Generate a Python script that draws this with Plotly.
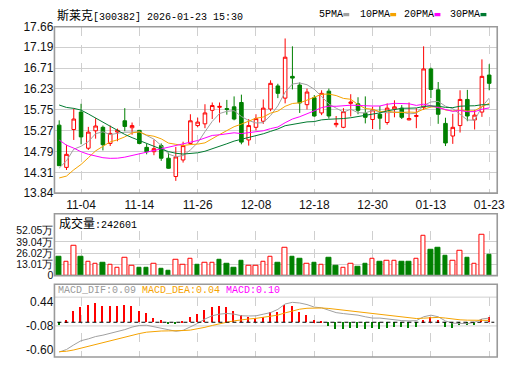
import plotly.graph_objects as go
import pandas as pd

# ---------------- data ----------------
stock_name = "斯莱克"
stock_code = "300382"
timestamp = "2026-01-23 15:30"

dates = ["10-30", "10-31", "11-03", "11-04", "11-05", "11-06", "11-07", "11-10", "11-11", "11-12",
         "11-13", "11-14", "11-17", "11-18", "11-19", "11-20", "11-21", "11-24", "11-25", "11-26",
         "11-27", "11-28", "12-01", "12-02", "12-03", "12-04", "12-05", "12-08", "12-09", "12-10",
         "12-11", "12-12", "12-15", "12-16", "12-17", "12-18", "12-19", "12-22", "12-23", "12-24",
         "12-25", "12-26", "12-29", "12-30", "12-31", "01-05", "01-06", "01-07", "01-08", "01-09",
         "01-12", "01-13", "01-14", "01-15", "01-16", "01-19", "01-20", "01-21", "01-22", "01-23"]

opens = [15.40, 14.43, 15.30, 15.70, 14.87, 15.27, 15.35, 14.98, 15.24, 15.50,
         15.34, 15.28, 14.89, 14.79, 14.93, 14.64, 14.22, 14.60, 14.98, 15.39,
         15.43, 15.74, 15.81, 15.78, 15.82, 15.92, 15.06, 15.35, 15.49, 15.77,
         16.30, 16.02, 16.52, 16.32, 15.87, 16.03, 15.68, 16.18, 15.41, 15.35,
         15.90, 15.89, 15.67, 15.53, 15.65, 15.46, 15.77, 15.79, 15.52, 15.60,
         15.81, 16.69, 16.21, 15.44, 15.15, 15.39, 15.99, 15.52, 15.70, 16.55]
highs = [15.51, 14.95, 15.78, 15.89, 15.36, 15.56, 15.39, 15.39, 15.32, 15.79,
         15.46, 15.29, 14.97, 15.07, 14.98, 14.77, 14.90, 15.02, 15.65, 15.57,
         15.88, 15.92, 15.92, 15.98, 16.06, 16.10, 15.54, 15.65, 15.99, 16.43,
         16.35, 17.39, 17.21, 16.38, 16.24, 16.09, 16.20, 16.24, 15.61, 15.79,
         16.11, 16.04, 16.06, 15.82, 15.84, 15.90, 15.97, 15.86, 15.92, 15.79,
         17.21, 16.72, 16.39, 15.57, 15.66, 16.20, 16.21, 15.75, 16.91, 16.80]
lows = [14.46, 14.37, 15.06, 14.96, 14.83, 15.09, 14.82, 14.92, 15.03, 15.26,
        15.18, 14.96, 14.73, 14.71, 14.58, 14.40, 14.12, 14.54, 14.95, 15.35,
        15.33, 15.54, 15.46, 15.64, 15.51, 14.96, 14.93, 15.28, 15.43, 15.72,
        16.02, 15.90, 16.22, 15.68, 15.76, 15.59, 15.63, 15.55, 15.35, 15.33,
        15.60, 15.65, 15.44, 15.31, 15.30, 15.41, 15.58, 15.54, 15.51, 15.33,
        15.75, 16.02, 15.43, 14.92, 14.97, 15.23, 15.49, 15.30, 15.59, 16.20]
closes = [14.47, 14.73, 15.54, 15.13, 15.24, 15.38, 14.95, 15.21, 15.28, 15.37,
          15.39, 14.98, 14.79, 14.86, 14.64, 14.41, 14.67, 14.93, 15.50, 15.47,
          15.68, 15.85, 15.83, 15.76, 15.54, 15.01, 15.39, 15.55, 15.79, 16.36,
          16.13, 16.96, 16.48, 15.91, 16.16, 15.61, 16.13, 15.61, 15.44, 15.71,
          15.93, 15.74, 15.58, 15.75, 15.56, 15.79, 15.82, 15.58, 15.55, 15.62,
          16.69, 16.22, 15.65, 14.99, 15.35, 15.99, 15.61, 15.63, 16.52, 16.36]

# closes before the visible window (estimated from where the MA lines start)
prior_closes = [16.4, 16.2, 16.3, 17.9, 18.2, 18.3, 18.1, 17.9, 17.8, 17.6,
                17.1, 16.9, 16.8, 16.4, 16.1, 15.8, 15.5, 15.2, 14.9, 14.6,
                14.3, 14.1, 13.9, 13.7, 13.8, 13.9, 14.2, 14.8, 14.7]

volumes = [216000, 160000, 346000, 216000, 160000, 134000, 149000, 123000, 85000, 204000,
           112000, 93000, 93000, 134000, 82000, 59000, 179000, 123000, 190000, 123000,
           149000, 149000, 185000, 134000, 93000, 171000, 112000, 112000, 160000, 223000,
           149000, 327000, 223000, 190000, 134000, 149000, 123000, 204000, 112000, 96000,
           141000, 104000, 134000, 190000, 160000, 167000, 167000, 160000, 160000, 197000,
           458000, 297000, 327000, 235000, 167000, 290000, 204000, 134000, 469000, 242601]

macd_dif = [-0.645, -0.59, -0.49, -0.40, -0.36, -0.31, -0.28, -0.245, -0.21, -0.16,
            -0.105, -0.07, -0.065, -0.10, -0.125, -0.17, -0.195, -0.175, -0.105, -0.025,
            0.07, 0.14, 0.175, 0.19, 0.175, 0.14, 0.135, 0.139, 0.174, 0.208,
            0.278, 0.395, 0.43, 0.416, 0.382, 0.327, 0.312, 0.258, 0.208, 0.187,
            0.174, 0.153, 0.118, 0.09, 0.09, 0.07, 0.05, 0.035, 0.028, 0.035,
            0.118, 0.153, 0.118, 0.028, -0.02, -0.03, -0.03, 0.0, 0.07, 0.09]
macd_dea = [-0.637, -0.628, -0.60, -0.56, -0.52, -0.478, -0.438, -0.40, -0.362, -0.322,
            -0.28, -0.245, -0.215, -0.20, -0.19, -0.187, -0.187, -0.18, -0.17, -0.145,
            -0.11, -0.07, -0.03, 0.0, 0.03, 0.055, 0.07, 0.084, 0.102, 0.123,
            0.154, 0.202, 0.248, 0.282, 0.302, 0.307, 0.308, 0.298, 0.28, 0.262,
            0.244, 0.226, 0.204, 0.181, 0.163, 0.144, 0.125, 0.107, 0.092, 0.08,
            0.088, 0.101, 0.105, 0.09, 0.068, 0.052, 0.045, 0.04, 0.038, 0.04]
macd_hist = [-0.054, 0.035, 0.243, 0.327, 0.368, 0.41, 0.347, 0.347, 0.347, 0.368,
             0.347, 0.243, 0.187, 0.09, 0.035, -0.027, -0.048, 0.01, 0.118, 0.175,
             0.258, 0.333, 0.347, 0.327, 0.243, 0.16, 0.12, 0.09, 0.118, 0.222,
             0.222, 0.368, 0.347, 0.208, 0.16, 0.035, 0.005, -0.09, -0.158, -0.158,
             -0.117, -0.138, -0.158, -0.138, -0.158, -0.124, -0.104, -0.104, -0.117, -0.104,
             0.04, 0.104, 0.035, -0.104, -0.138, -0.07, -0.07, -0.055, 0.076, 0.10]

ma_periods = [5, 10, 20, 30]
ma_names = ["5PMA", "10PMA", "20PMA", "30PMA"]
date_ticks = ["11-04", "11-14", "11-26", "12-08", "12-18", "12-30", "01-13", "01-23"]
price_ticks = [13.84, 14.31, 14.79, 15.27, 15.75, 16.23, 16.71, 17.19, 17.66]
volume_ticks = [0, 130100, 260200, 390400, 520500]
macd_ticks = [0.44, -0.08, -0.60]

# ---------------- styling / layout ----------------
W, H = 520, 365
RED, GREEN = "#ff0000", "#008000"
MA_COLORS = ["#a0a0a0", "#f5a300", "#ff00ff", "#007a30"]
GRID = "#cfcfcf"
BORDER = "#9a9a9a"
MONO = "Liberation Mono, DejaVu Sans Mono, Noto Sans CJK SC, monospace"
SANS = "Liberation Sans, Arial, sans-serif"
CJK_SPAN = "<span style='font-family:Noto Sans CJK SC;font-size:12px'>{}</span>"

X_L, X_R = 55.3, 505.0
MAIN_T, MAIN_B = 20.5, 193.5
VOL_BOX_T, VOL_T, VOL_B = 215.0, 232.7, 279.3
MACD_BOX_T, MACD_T, MACD_B = 288.3, 301.7, 364.0


def px(x):
    return x / W


def py(y):
    return 1 - y / H


idx = list(range(len(dates)))
x_range = [-0.65, len(dates) + 0.1]
tickvals_x = [dates.index(d) for d in date_ticks]

# moving averages
all_closes = pd.Series(prior_closes + closes)
mas = [all_closes.rolling(p).mean().iloc[len(prior_closes):].tolist() for p in ma_periods]

fig = go.Figure()

fig.add_trace(go.Candlestick(
    x=idx, open=opens, high=highs, low=lows, close=closes,
    increasing=dict(line=dict(color=RED, width=1), fillcolor="#ffffff"),
    decreasing=dict(line=dict(color=GREEN, width=1), fillcolor=GREEN),
    whiskerwidth=0, xaxis="x", yaxis="y", showlegend=False, hoverinfo="skip"))

for name, vals, col in zip(ma_names, mas, MA_COLORS):
    fig.add_trace(go.Scatter(x=idx, y=vals, mode="lines", name=name,
                             line=dict(color=col, width=1), xaxis="x", yaxis="y",
                             showlegend=False, hoverinfo="skip"))

# volume bars: red when close >= previous close
prev = [prior_closes[-1]] + closes[:-1]
up = [c >= p for c, p in zip(closes, prev)]
fig.add_trace(go.Bar(
    x=idx, y=volumes, width=0.62,
    marker=dict(color=["#ffffff" if u else GREEN for u in up],
                line=dict(color=[RED if u else GREEN for u in up], width=1)),
    xaxis="x2", yaxis="y2", showlegend=False, hoverinfo="skip"))

# MACD
fig.add_trace(go.Bar(
    x=idx, y=macd_hist, width=0.2,
    marker=dict(color=[RED if v >= 0 else GREEN for v in macd_hist], line=dict(width=0)),
    xaxis="x3", yaxis="y3", showlegend=False, hoverinfo="skip"))
fig.add_trace(go.Scatter(x=idx, y=macd_dif, mode="lines", line=dict(color="#a0a0a0", width=1),
                         xaxis="x3", yaxis="y3", showlegend=False, hoverinfo="skip"))
fig.add_trace(go.Scatter(x=idx, y=macd_dea, mode="lines", line=dict(color="#f5a300", width=1),
                         xaxis="x3", yaxis="y3", showlegend=False, hoverinfo="skip"))

xcommon = dict(range=x_range, domain=[px(X_L), px(X_R)], tickvals=tickvals_x,
               showgrid=True, griddash="dash", gridcolor=GRID, gridwidth=1,
               zeroline=False, showline=False, ticks="", fixedrange=True)

fig.update_layout(
    width=W, height=H, margin=dict(l=0, r=0, t=0, b=0),
    paper_bgcolor="#ffffff", plot_bgcolor="#ffffff",
    showlegend=False, bargap=0,
    xaxis=dict(**xcommon, anchor="y", ticktext=date_ticks, showticklabels=True,
               ticklabelstandoff=3,
               tickfont=dict(family=SANS, size=12, color="#111111"),
               rangeslider=dict(visible=False)),
    xaxis2=dict(**xcommon, anchor="y2", showticklabels=False, matches="x"),
    xaxis3=dict(**xcommon, anchor="y3", showticklabels=False, matches="x"),
    yaxis=dict(domain=[py(MAIN_B), py(MAIN_T)], range=[price_ticks[0], price_ticks[-1]],
               tickvals=price_ticks, ticktext=[f"{v:.2f}" for v in price_ticks],
               showgrid=True, gridcolor=GRID, zeroline=False, ticks="",
               tickfont=dict(family=SANS, size=12, color="#111111"), anchor="x"),
    yaxis2=dict(domain=[py(VOL_B), py(VOL_T)], range=[volume_ticks[0], volume_ticks[-1]],
                tickvals=volume_ticks,
                ticktext=["0" if v == 0 else f"{v / 1e4:.2f}万" for v in volume_ticks],
                showgrid=True, gridcolor=GRID, zeroline=False, ticks="",
                tickfont=dict(family=SANS, size=10.5, color="#111111"), anchor="x2"),
    yaxis3=dict(domain=[py(MACD_B), py(MACD_T)], range=[-0.753, 0.543],
                tickvals=macd_ticks, ticktext=[f"{v:.2f}" for v in macd_ticks],
                showgrid=False, zeroline=False, ticks="",
                tickfont=dict(family=SANS, size=12, color="#111111"), anchor="x3"),
)

shapes = []
# panel boxes
for top, bot in [(MAIN_T, MAIN_B), (VOL_BOX_T, VOL_B), (MACD_BOX_T, MACD_B)]:
    shapes.append(dict(type="rect", xref="paper", yref="paper",
                       x0=px(X_L), x1=px(X_R), y0=py(bot), y1=py(top),
                       line=dict(color=BORDER, width=1.6), fillcolor="rgba(0,0,0,0)", layer="above"))
# MACD title separator
shapes.append(dict(type="line", xref="paper", yref="paper", x0=px(X_L), x1=px(X_R),
                   y0=py(MACD_T), y1=py(MACD_T), line=dict(color=GRID, width=1), layer="below"))
# MACD mid grid line and zero line
shapes.append(dict(type="line", xref="paper", yref="y3", x0=px(X_L), x1=px(X_R),
                   y0=macd_ticks[1], y1=macd_ticks[1], line=dict(color=GRID, width=1), layer="below"))
shapes.append(dict(type="line", xref="paper", yref="y3", x0=px(X_L + 3), x1=px(X_R - 3),
                   y0=0, y1=0, line=dict(color="#000000", width=1.2, dash="4px,3px"), layer="above"))

annotations = []
annotations.append(dict(text=CJK_SPAN.format(stock_name) + f"[{stock_code}] {timestamp}",
                        x=px(56), y=py(8), xref="paper", yref="paper",
                        xanchor="left", yanchor="middle", showarrow=False,
                        font=dict(family=MONO, size=10, color="#000000")))
legend_x = [321.7, 363.3, 408.3, 455.0]
for name, col, lx in zip(ma_names, MA_COLORS, legend_x):
    annotations.append(dict(text=name, x=px(lx), y=py(8), xref="paper", yref="paper",
                            xanchor="left", yanchor="middle", showarrow=False,
                            font=dict(family=MONO, size=10, color="#000000")))
    mx = lx + len(name) * 6 + 3
    shapes.append(dict(type="rect", xref="paper", yref="paper",
                       x0=px(mx), x1=px(mx + 6), y0=py(9.6), y1=py(6.2),
                       line=dict(width=0), fillcolor=col))

annotations.append(dict(text=CJK_SPAN.format("成交量") + f":{volumes[-1]}", x=px(57.5), y=py(224),
                        xref="paper", yref="paper", xanchor="left", yanchor="middle",
                        showarrow=False, font=dict(family=MONO, size=10, color="#000000")))
macd_title = (f"<span style='color:#9a9a9a'>MACD_DIF:{macd_dif[-1]:.2f}</span> "
              f"<span style='color:#f5a300'>MACD_DEA:{macd_dea[-1]:.2f}</span> "
              f"<span style='color:#ff00ff'>MACD:{macd_hist[-1]:.2f}</span>")
annotations.append(dict(text=macd_title, x=px(56.5), y=py(295), xref="paper", yref="paper",
                        xanchor="left", yanchor="middle", showarrow=False,
                        font=dict(family=MONO, size=10, color="#9a9a9a")))

fig.update_layout(shapes=shapes, annotations=annotations)
fig.write_html("out.html")
